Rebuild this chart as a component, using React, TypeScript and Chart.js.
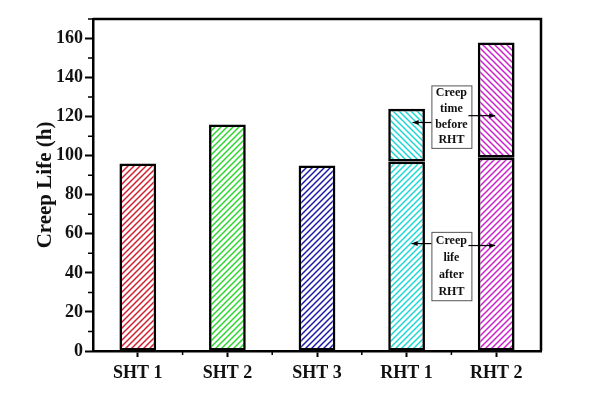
import React, { useEffect, useRef } from "react";
import { Chart, registerables } from "chart.js";

Chart.register(...registerables);

const categories = ["SHT 1", "SHT 2", "SHT 3", "RHT 1", "RHT 2"];
// lower segment: "Creep life after RHT" (or total life for SHT samples)
const lowerValues = [96, 116, 95, 97, 99];
// upper segment: "Creep time before RHT"
const upperValues = [null, null, null, 27, 59];
const barColors = ["#d0202e", "#2fd62f", "#1c1ca8", "#1ed6d6", "#cc22cc"];
const yTicks = [0, 20, 40, 60, 80, 100, 120, 140, 160];
const annotationTop = ["Creep", "time", "before", "RHT"];
const annotationBottom = ["Creep", "life", "after", "RHT"];

const FONT = "'Liberation Serif', 'Times New Roman', serif";

function makeHatch(color: string, forward: boolean): CanvasPattern | string {
  const s = 6;
  const c = document.createElement("canvas");
  c.width = s;
  c.height = s;
  const g = c.getContext("2d");
  if (!g) return color;
  g.fillStyle = "#ffffff";
  g.fillRect(0, 0, s, s);
  g.strokeStyle = color;
  g.lineWidth = 1.5;
  g.beginPath();
  if (forward) {
    g.moveTo(-1, s + 1);
    g.lineTo(s + 1, -1);
    g.moveTo(-1, 1);
    g.lineTo(1, -1);
    g.moveTo(s - 1, s + 1);
    g.lineTo(s + 1, s - 1);
  } else {
    g.moveTo(-1, -1);
    g.lineTo(s + 1, s + 1);
    g.moveTo(s - 1, -1);
    g.lineTo(s + 1, 1);
    g.moveTo(-1, s - 1);
    g.lineTo(1, s + 1);
  }
  g.stroke();
  const p = g.createPattern(c, "repeat");
  return p || color;
}

const decorPlugin = {
  id: "decor",
  afterDraw(chart: any) {
    const ctx = chart.ctx as CanvasRenderingContext2D;
    const { left, right, top, bottom } = chart.chartArea;
    const xs = chart.scales.x;
    const ys = chart.scales.y;
    ctx.save();
    // frame top & right
    ctx.strokeStyle = "#000";
    ctx.lineWidth = 2.5;
    ctx.beginPath();
    ctx.moveTo(left, top);
    ctx.lineTo(right, top);
    ctx.lineTo(right, bottom);
    ctx.stroke();
    // minor y ticks
    ctx.lineWidth = 1.5;
    ctx.beginPath();
    for (let v = 10; v <= 170; v += 20) {
      const y = ys.getPixelForValue(v);
      ctx.moveTo(left - 5, y);
      ctx.lineTo(left, y);
    }
    // minor x ticks
    for (let i = 0; i < categories.length - 1; i++) {
      const x = (xs.getPixelForValue(i) + xs.getPixelForValue(i + 1)) / 2;
      ctx.moveTo(x, bottom);
      ctx.lineTo(x, bottom + 4);
    }
    ctx.stroke();

    // annotations
    const cx = (xs.getPixelForValue(3) + xs.getPixelForValue(4)) / 2;
    const drawBox = (lines: string[], yTopV: number, yBotV: number) => {
      const yT = ys.getPixelForValue(yTopV);
      const yB = ys.getPixelForValue(yBotV);
      const w = 40;
      ctx.fillStyle = "#fff";
      ctx.fillRect(cx - w / 2, yT, w, yB - yT);
      ctx.strokeStyle = "#555";
      ctx.lineWidth = 1;
      ctx.strokeRect(cx - w / 2 + 0.5, yT + 0.5, w, yB - yT);
      ctx.fillStyle = "#111";
      ctx.font = "bold 12px " + FONT;
      ctx.textAlign = "center";
      ctx.textBaseline = "middle";
      const lh = (yB - yT) / lines.length;
      lines.forEach((t, i) => ctx.fillText(t, cx, yT + lh * (i + 0.5)));
      return { l: cx - w / 2, r: cx + w / 2 };
    };
    const arrow = (x1: number, x2: number, y: number) => {
      ctx.strokeStyle = "#000";
      ctx.fillStyle = "#000";
      ctx.lineWidth = 1.2;
      ctx.beginPath();
      ctx.moveTo(x1, y);
      ctx.lineTo(x2, y);
      ctx.stroke();
      const d = x2 > x1 ? 1 : -1;
      ctx.beginPath();
      ctx.moveTo(x2, y);
      ctx.lineTo(x2 - d * 6, y - 2.5);
      ctx.lineTo(x2 - d * 6, y + 2.5);
      ctx.closePath();
      ctx.fill();
    };
    const b1 = drawBox(annotationTop, 136, 104);
    arrow(b1.l, xs.getPixelForValue(3) + 6, ys.getPixelForValue(117));
    arrow(b1.r - 3, xs.getPixelForValue(4) - 1, ys.getPixelForValue(120.5));
    const b2 = drawBox(annotationBottom, 61, 26);
    arrow(b2.l, xs.getPixelForValue(3) + 5, ys.getPixelForValue(55));
    arrow(b2.r - 3, xs.getPixelForValue(4) - 1, ys.getPixelForValue(54));
    ctx.restore();
  },
};

export default function App() {
  const ref = useRef<HTMLCanvasElement | null>(null);
  useEffect(() => {
    document.body.style.margin = "0";
    const el = ref.current;
    if (!el) return;
    const lowerBg = barColors.map((c) => makeHatch(c, true));
    const upperBg = barColors.map((c) => makeHatch(c, false));
    const chart = new Chart(el, {
      type: "bar",
      data: {
        labels: categories,
        datasets: [
          {
            label: "Creep life after RHT",
            data: lowerValues,
            backgroundColor: lowerBg as any,
            borderColor: "#000",
            borderWidth: 2.6,
            borderSkipped: false,
            categoryPercentage: 1,
            barPercentage: 0.41,
          },
          {
            label: "Creep time before RHT",
            data: upperValues as any,
            backgroundColor: upperBg as any,
            borderColor: "#000",
            borderWidth: 2.6,
            borderSkipped: false,
            categoryPercentage: 1,
            barPercentage: 0.41,
          },
        ],
      },
      options: {
        animation: false,
        responsive: false,
        maintainAspectRatio: false,
        layout: { padding: { left: 0, top: 19, right: 62, bottom: 0 } },
        plugins: { legend: { display: false }, tooltip: { enabled: false } },
        scales: {
          x: {
            stacked: true,
            afterFit: (s: any) => {
              s.height = 43;
            },
            grid: {
              offset: false,
              drawOnChartArea: false,
              drawTicks: true,
              tickLength: 6,
              tickWidth: 2,
              tickColor: "#000",
            },
            border: { display: true, color: "#000", width: 2.5 },
            ticks: {
              color: "#111",
              padding: 6,
              font: { family: FONT, size: 18, weight: "bold" },
            },
          },
          y: {
            stacked: true,
            min: 0,
            max: 170,
            afterFit: (s: any) => {
              s.width = 93;
            },
            afterBuildTicks: (s: any) => {
              s.ticks = yTicks.map((v) => ({ value: v }));
            },
            grid: {
              drawOnChartArea: false,
              drawTicks: true,
              tickLength: 8,
              tickWidth: 2,
              tickColor: "#000",
            },
            border: { display: true, color: "#000", width: 2.5 },
            ticks: {
              color: "#111",
              padding: 2,
              font: { family: FONT, size: 18, weight: "bold" },
            },
            title: {
              display: true,
              text: "Creep Life (h)",
              color: "#111",
              padding: { top: 33, bottom: 0 },
              font: { family: FONT, size: 21, weight: "bold" },
            },
          },
        },
      },
      plugins: [decorPlugin],
    });
    return () => chart.destroy();
  }, []);
  return (
    <div style={{ width: 603, height: 394, background: "#fff" }}>
      <canvas ref={ref} width={603} height={394} style={{ width: 603, height: 394, display: "block" }} />
    </div>
  );
}
